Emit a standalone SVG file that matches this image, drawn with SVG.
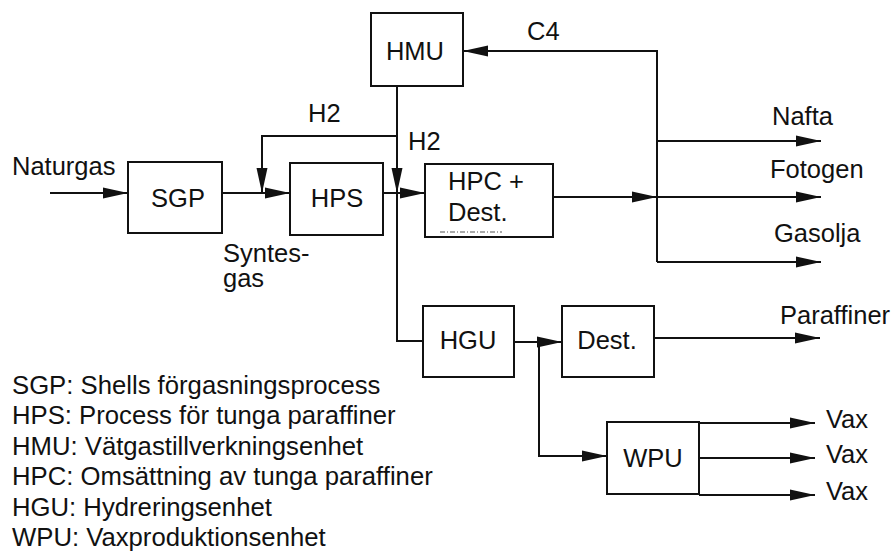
<svg xmlns="http://www.w3.org/2000/svg" width="895" height="553" viewBox="0 0 895 553">
<defs>
<style>
.box{fill:#fff;stroke:#111;stroke-width:2}
.ln{fill:none;stroke:#111;stroke-width:2}
.t{font-family:"Liberation Sans",Arial,sans-serif;font-size:25.5px;fill:#111}
.m{text-anchor:middle}
.lg{font-family:"Liberation Sans",Arial,sans-serif;font-size:25.7px;fill:#111}
</style>
<marker id="ar" markerUnits="userSpaceOnUse" markerWidth="26" markerHeight="12" refX="25" refY="6" orient="auto">
<path d="M0,0.5 L25,6 L0,11.5 Z" fill="#111"/>
</marker>
</defs>
<rect width="895" height="553" fill="#fff"/>
<g id="connectors">
<path class="ln" d="M50,193 H128" marker-end="url(#ar)"/>
<path class="ln" d="M222,193 H290" marker-end="url(#ar)"/>
<path class="ln" d="M397,136 H262 V193" marker-end="url(#ar)"/>
<path class="ln" d="M397,86 V193" marker-end="url(#ar)"/>
<path class="ln" d="M397,193 V341 H423"/>
<path class="ln" d="M383,193 H425" marker-end="url(#ar)"/>
<path class="ln" d="M553,197 H657" marker-end="url(#ar)"/>
<path class="ln" d="M657,262 V51 H463" marker-end="url(#ar)"/>
<path class="ln" d="M657,141 H821" marker-end="url(#ar)"/>
<path class="ln" d="M657,197 H821" marker-end="url(#ar)"/>
<path class="ln" d="M657,262 H821" marker-end="url(#ar)"/>
<path class="ln" d="M514,342 H562" marker-end="url(#ar)"/>
<path class="ln" d="M539,342 V456 H607" marker-end="url(#ar)"/>
<path class="ln" d="M654,338 H820" marker-end="url(#ar)"/>
<path class="ln" d="M699,423 H815" marker-end="url(#ar)"/>
<path class="ln" d="M699,458 H815" marker-end="url(#ar)"/>
<path class="ln" d="M699,495 H815" marker-end="url(#ar)"/>
</g>
<g id="SGP"><rect class="box" x="128" y="162" width="94" height="71"/><text class="t m" x="178" y="207">SGP</text></g>
<g id="HPS"><rect class="box" x="290" y="163" width="93" height="72"/><text class="t m" x="337" y="207">HPS</text></g>
<g id="HMU"><rect class="box" x="371" y="13" width="92" height="73"/><text class="t m" x="415" y="60">HMU</text></g>
<g id="HPC"><rect class="box" x="425" y="164" width="128" height="73"/><text class="t" x="448" y="190">HPC +</text><text class="t" x="448" y="221">Dest.</text><line x1="440" y1="232" x2="502" y2="232" stroke="#555" stroke-width="1.2" stroke-dasharray="5,2,1,2"/></g>
<g id="HGU"><rect class="box" x="423" y="306" width="91" height="71"/><text class="t m" x="468" y="349">HGU</text></g>
<g id="Dest"><rect class="box" x="562" y="306" width="92" height="71"/><text class="t m" x="607" y="349">Dest.</text></g>
<g id="WPU"><rect class="box" x="607" y="422" width="92" height="72"/><text class="t m" x="653" y="467">WPU</text></g>
<g id="labels">
<text class="t" x="12" y="175">Naturgas</text>
<text class="t" x="308" y="122">H2</text>
<text class="t" x="408" y="150">H2</text>
<text class="t" x="527" y="40">C4</text>
<text class="t" x="223" y="262">Syntes-<tspan x="223" y="287">gas</tspan></text>
<text class="t" x="772" y="125">Nafta</text>
<text class="t" x="770" y="178">Fotogen</text>
<text class="t" x="774" y="242">Gasolja</text>
<text class="t" x="780" y="324">Paraffiner</text>
<text class="t" x="826" y="428">Vax</text>
<text class="t" x="826" y="463">Vax</text>
<text class="t" x="826" y="500">Vax</text>
</g>
<g id="legend">
<text class="lg" x="12" y="394">SGP: Shells förgasningsprocess</text>
<text class="lg" x="12" y="424">HPS: Process för tunga paraffiner</text>
<text class="lg" x="12" y="455">HMU: Vätgastillverkningsenhet</text>
<text class="lg" x="12" y="485">HPC: Omsättning av tunga paraffiner</text>
<text class="lg" x="12" y="516">HGU: Hydreringsenhet</text>
<text class="lg" x="12" y="546">WPU: Vaxproduktionsenhet</text>
</g>
</svg>
